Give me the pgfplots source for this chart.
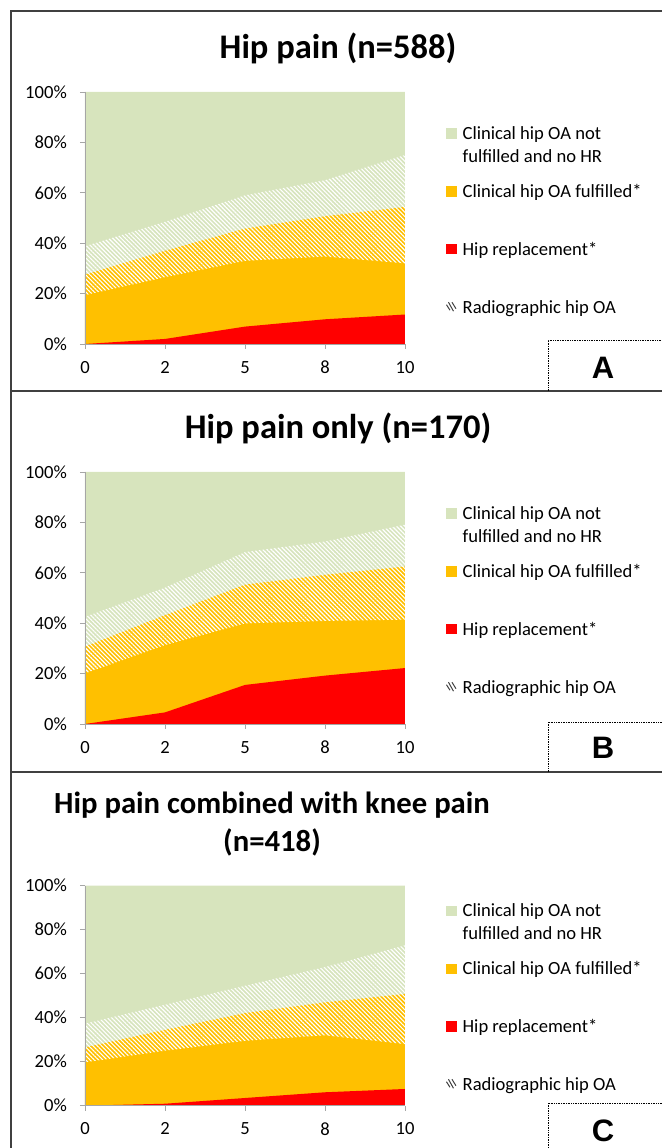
\documentclass[border=0pt]{standalone}
\usepackage{fontspec}
\setmainfont{Carlito}
\newfontfamily\letterfont{Liberation Sans}
\usepackage{pgfplots}
\pgfplotsset{compat=1.18}
\usepackage{pgfplotstable}
\usetikzlibrary{patterns.meta}

\definecolor{cgreen}{HTML}{D7E4BD}
\definecolor{corange}{HTML}{FFC000}
\definecolor{cred}{HTML}{FF0000}
\definecolor{axgray}{HTML}{A6A6A6}
\definecolor{framegray}{HTML}{404040}

% columns: x, total, red (hip replacement), orange (top of clinical OA)
\pgfplotstableread{
x total red orange
0 100 0    27.5
1 100 2.0  37.0
2 100 6.9  45.8
3 100 9.8  50.7
4 100 11.7 54.4
}\dataA
% radiographic OA band: lower edge left to right, then upper edge right to left
\pgfplotstableread{
x y
0 19.4
1 26.5
2 33.0
3 34.7
4 32.0
4 75.0
3 65.0
2 59.0
1 48.5
0 38.8
}\bandA
\pgfplotstableread{
x total red orange
0 100 0    30.7
1 100 4.6  43.2
2 100 15.5 55.3
3 100 19.2 59.2
4 100 22.2 62.5
}\dataB
\pgfplotstableread{
x y
0 20.1
1 31.3
2 39.9
3 40.9
4 41.4
4 79.1
3 72.4
2 68.2
1 54.1
0 42.5
}\bandB
\pgfplotstableread{
x total red orange
0 100 0    26.5
1 100 0.9  34.5
2 100 3.5  42.1
3 100 6.1  47.0
4 100 7.6  50.8
}\dataC
\pgfplotstableread{
x y
0 19.7
1 25.0
2 29.5
3 32.0
4 28.0
4 72.9
3 63.0
2 54.5
1 45.9
0 37.3
}\bandC

\newcommand\lfont{\fontsize{18.6}{23}\selectfont}
\pgfplotsset{
  panel/.style={
    scale only axis, width=320pt,
    xmin=0, xmax=4, ymin=0, ymax=100,
    axis x line*=bottom, axis y line*=left,
    axis line style={draw=axgray, line width=0.9pt},
    tick style={draw=axgray, line width=0.9pt},
    tick align=outside, major tick length=5pt,
    xtick={0,1,2,3,4}, xticklabels={0,2,5,8,10},
    ytick={0,20,40,60,80,100},
    yticklabels={0\%,20\%,40\%,60\%,80\%,100\%},
    ticklabel style={font=\lfont, inner sep=0pt},
    yticklabel style={xshift=-13pt},
    xticklabel style={yshift=-12pt},
    axis on top,
    legend style={draw=none, fill=none, inner sep=0pt, outer sep=0pt,
      font=\lfont, row sep=0pt, column sep=6pt,
      cells={anchor=base west}, nodes={inner sep=0pt}},
  },
  hatchpat/.style={pattern={Lines[angle=-45,distance=3pt,line width=1.1pt]}, pattern color=white},
}
\newcommand\layers[2]{%
  \addplot[fill=cgreen, draw=none, forget plot] table[x=x,y=total]{#1} \closedcycle;
  \addplot[fill=corange, draw=none, forget plot] table[x=x,y=orange]{#1} \closedcycle;
  \addplot[fill=cred, draw=none, forget plot] table[x=x,y=red]{#1} \closedcycle;
  \addplot[hatchpat, draw=none, forget plot] table[x=x,y=y]{#2} -- cycle;
  \addlegendimage{legend image code/.code={\fill[cgreen] (0pt,1.5pt) rectangle (10pt,11pt);}}
  \addlegendentry{\begin{tabular}[t]{@{}l@{}}Clinical hip OA not\\fulfilled and no HR\end{tabular}}
  \addlegendimage{legend image code/.code={\fill[corange] (0pt,1.5pt) rectangle (10pt,11pt);}}
  \addlegendentry{\rule{0pt}{56.5pt}Clinical hip OA fulfilled*}
  \addlegendimage{legend image code/.code={\fill[cred] (0pt,1.5pt) rectangle (10pt,11pt);}}
  \addlegendentry{\rule{0pt}{56pt}Hip replacement*}
  \addlegendimage{legend image code/.code={\draw[black!75, line width=1pt] (0pt,8.5pt) -- (3.5pt,3pt) (2pt,11pt) -- (7pt,2pt) (5.5pt,11pt) -- (9.5pt,4.5pt);}}
  \addlegendentry{\rule{0pt}{56.5pt}Radiographic hip OA}
}

\begin{document}
\begin{tikzpicture}[x=1pt,y=1pt]
% frame
\draw[framegray, line width=1.6pt] (11,-5) -- (11,1137) -- (680,1137);
\draw[framegray, line width=1.6pt] (11,757) -- (680,757);
\draw[framegray, line width=1.6pt] (11,376) -- (680,376);

% Panel A
\node[font=\fontsize{34.5}{40}\selectfont\bfseries] at (338,1100) {Hip pain (n=588)};
\begin{axis}[panel, height=252pt, at={(85pt,804pt)}, anchor=south west,
  legend style={at={(axis description cs:1.128,0.8746)}, anchor=north west}]
\layers{\dataA}{\bandA}
\end{axis}
\draw[densely dotted, line width=0.7pt] (548,757) -- (548,808) -- (680,808);
\node[font=\letterfont\fontsize{31}{32}\selectfont\bfseries] at (603,780) {A};

% Panel B
\node[font=\fontsize{34.5}{40}\selectfont\bfseries] at (338,720) {Hip pain only (n=170)};
\begin{axis}[panel, height=252pt, at={(85pt,424pt)}, anchor=south west,
  legend style={at={(axis description cs:1.128,0.8746)}, anchor=north west}]
\layers{\dataB}{\bandB}
\end{axis}
\draw[densely dotted, line width=0.7pt] (548,376) -- (548,426) -- (680,426);
\node[font=\letterfont\fontsize{31}{32}\selectfont\bfseries] at (603,400) {B};

% Panel C
\node[font=\fontsize{30.7}{38.3}\selectfont\bfseries, align=center] at (272,324) {Hip pain combined with knee pain\\(n=418)};
\begin{axis}[panel, height=220pt, at={(85pt,42.3pt)}, anchor=south west,
  legend style={at={(axis description cs:1.128,0.932)}, anchor=north west}]
\layers{\dataC}{\bandC}
\end{axis}
\draw[densely dotted, line width=0.7pt] (548,-5) -- (548,45) -- (680,45);
\node[font=\letterfont\fontsize{31}{32}\selectfont\bfseries] at (603,17.3) {C};

\pgfresetboundingbox
\useasboundingbox (0,0) rectangle (661,1148);
\end{tikzpicture}
\end{document}
